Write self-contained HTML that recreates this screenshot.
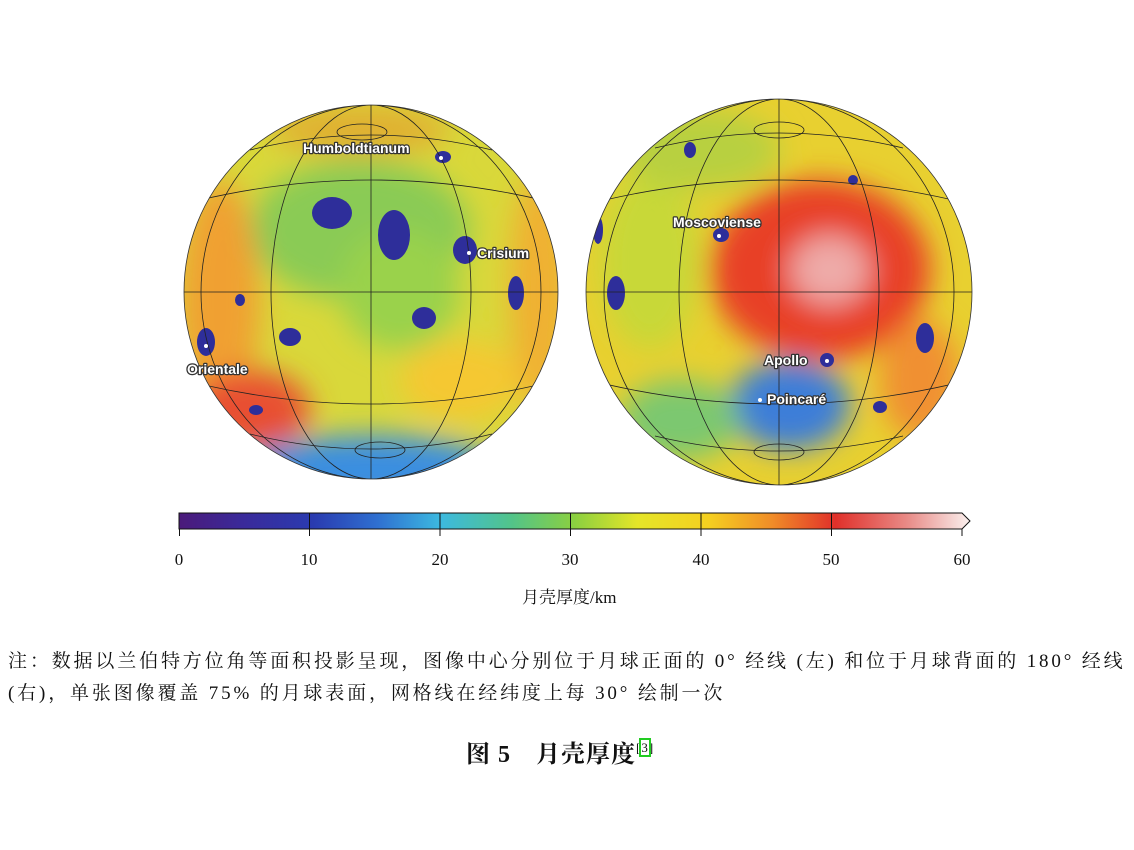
<!DOCTYPE html>
<html><head><meta charset="utf-8"><style>
body{margin:0;background:#fff;width:1134px;height:850px;overflow:hidden;font-family:"Liberation Serif","Noto Serif CJK SC",serif;}
.t{position:absolute;color:#111;white-space:nowrap}
</style></head><body>
<svg width="1134" height="850" style="position:absolute;left:0;top:0">
<defs>
<filter id="b" x="-50%" y="-50%" width="200%" height="200%"><feGaussianBlur stdDeviation="14"/></filter>
<clipPath id="cl"><circle cx="371" cy="292" r="187"/></clipPath>
<clipPath id="cr"><circle cx="779" cy="292" r="193"/></clipPath>
<linearGradient id="cb" x1="0" x2="1">
<stop offset="0" stop-color="#4b1a7a"/><stop offset="0.08" stop-color="#3a2a9a"/><stop offset="0.17" stop-color="#2a3bb0"/><stop offset="0.25" stop-color="#2f6fd0"/><stop offset="0.33" stop-color="#3cb9e0"/><stop offset="0.42" stop-color="#52c48a"/><stop offset="0.5" stop-color="#8bd040"/><stop offset="0.58" stop-color="#e5e528"/><stop offset="0.67" stop-color="#f5d020"/><stop offset="0.75" stop-color="#f08c28"/><stop offset="0.83" stop-color="#e0302a"/><stop offset="0.92" stop-color="#e88a86"/><stop offset="1" stop-color="#faf0ee"/></linearGradient>
</defs>
<g clip-path="url(#cl)">
<rect x="180" y="100" width="380" height="390" fill="#d9d83a"/>
<g filter="url(#b)">
<ellipse cx="360" cy="230" rx="110" ry="70" fill="#8acb55"/>
<ellipse cx="400" cy="290" rx="60" ry="60" fill="#9ad24c"/>
<ellipse cx="220" cy="300" rx="40" ry="120" fill="#f0a030"/>
<ellipse cx="540" cy="290" rx="30" ry="120" fill="#f0b030"/>
<ellipse cx="250" cy="410" rx="60" ry="40" fill="#e85030"/>
<ellipse cx="370" cy="470" rx="130" ry="35" fill="#3a8ee0"/>
<ellipse cx="360" cy="130" rx="90" ry="25" fill="#e0b030"/>
<ellipse cx="460" cy="380" rx="60" ry="40" fill="#f5c830"/>
</g>
<g fill="#2e2e9a">
<ellipse cx="332" cy="213" rx="20" ry="16"/><ellipse cx="394" cy="235" rx="16" ry="25"/>
<ellipse cx="465" cy="250" rx="12" ry="14"/><ellipse cx="516" cy="293" rx="8" ry="17"/>
<ellipse cx="424" cy="318" rx="12" ry="11"/><ellipse cx="290" cy="337" rx="11" ry="9"/>
<ellipse cx="206" cy="342" rx="9" ry="14"/><ellipse cx="443" cy="157" rx="8" ry="6"/>
<ellipse cx="240" cy="300" rx="5" ry="6"/><ellipse cx="256" cy="410" rx="7" ry="5"/>
</g>
<g fill="none" stroke="#222" stroke-width="0.8">
<line x1="184" y1="292" x2="558" y2="292"/>
<line x1="371" y1="100" x2="371" y2="485"/>
<ellipse cx="371" cy="292" rx="100" ry="187"/><ellipse cx="371" cy="292" rx="170" ry="187"/>
<path d="M200 200 Q371 160 542 200"/><path d="M200 384 Q371 424 542 384"/>
<path d="M250 150 Q371 120 492 150"/><path d="M250 434 Q371 464 492 434"/>
<ellipse cx="362" cy="132" rx="25" ry="8"/><ellipse cx="380" cy="450" rx="25" ry="8"/>
</g>
</g>
<circle cx="371" cy="292" r="187" fill="none" stroke="#333" stroke-width="0.8"/>
<g clip-path="url(#cr)">
<rect x="580" y="95" width="400" height="400" fill="#e8d030"/>
<g filter="url(#b)">
<ellipse cx="820" cy="270" rx="110" ry="90" fill="#e84028"/>
<ellipse cx="830" cy="270" rx="40" ry="35" fill="#eeaaa8"/>
<ellipse cx="650" cy="260" rx="50" ry="90" fill="#c8d838"/>
<ellipse cx="700" cy="150" rx="80" ry="40" fill="#b8d040"/>
<ellipse cx="790" cy="405" rx="60" ry="45" fill="#3d7ed8"/>
<ellipse cx="680" cy="420" rx="60" ry="40" fill="#7cc870"/>
<ellipse cx="920" cy="380" rx="40" ry="60" fill="#f09030"/>
</g>
<g fill="#2e2e9a">
<ellipse cx="616" cy="293" rx="9" ry="17"/><ellipse cx="925" cy="338" rx="9" ry="15"/>
<ellipse cx="721" cy="235" rx="8" ry="7"/><ellipse cx="827" cy="360" rx="7" ry="7"/>
<ellipse cx="690" cy="150" rx="6" ry="8"/><ellipse cx="880" cy="407" rx="7" ry="6"/>
<ellipse cx="598" cy="230" rx="5" ry="14"/><ellipse cx="853" cy="180" rx="5" ry="5"/>
</g>
<g fill="none" stroke="#222" stroke-width="0.8">
<line x1="586" y1="292" x2="972" y2="292"/>
<line x1="779" y1="95" x2="779" y2="490"/>
<ellipse cx="779" cy="292" rx="100" ry="193"/><ellipse cx="779" cy="292" rx="175" ry="193"/>
<path d="M605 200 Q779 160 953 200"/><path d="M605 384 Q779 424 953 384"/>
<path d="M655 148 Q779 118 903 148"/><path d="M655 436 Q779 466 903 436"/>
<ellipse cx="779" cy="130" rx="25" ry="8"/><ellipse cx="779" cy="452" rx="25" ry="8"/>
</g>
</g>
<circle cx="779" cy="292" r="193" fill="none" stroke="#333" stroke-width="0.8"/>
<g font-family="Liberation Sans,sans-serif" font-weight="bold" font-size="14" fill="#fff" stroke="#333" stroke-width="2.5" paint-order="stroke" stroke-linejoin="round">
<text x="303" y="153">Humboldtianum</text><text x="477" y="258">Crisium</text>
<text x="187" y="374">Orientale</text><text x="673" y="227">Moscoviense</text>
<text x="764" y="365">Apollo</text><text x="767" y="404">Poincaré</text>
</g>
<g fill="#fff"><circle cx="441" cy="158" r="2"/><circle cx="469" cy="253" r="2"/><circle cx="206" cy="346" r="2"/><circle cx="719" cy="236" r="2"/><circle cx="827" cy="361" r="2"/><circle cx="760" cy="400" r="2"/></g>
<path d="M179 513 H962 L970 521 L962 529 H179 Z" fill="url(#cb)" stroke="#111" stroke-width="1"/>
<g stroke="#111" stroke-width="1">
<line x1="309.5" y1="513" x2="309.5" y2="536"/><line x1="440" y1="513" x2="440" y2="536"/><line x1="570.5" y1="513" x2="570.5" y2="536"/><line x1="701" y1="513" x2="701" y2="536"/><line x1="831.5" y1="513" x2="831.5" y2="536"/>
<line x1="179.5" y1="529" x2="179.5" y2="536"/><line x1="962" y1="529" x2="962" y2="536"/>
</g>
<g font-family="Liberation Serif,serif" font-size="17" fill="#111" text-anchor="middle">
<text x="179" y="565">0</text><text x="309" y="565">10</text><text x="440" y="565">20</text><text x="570" y="565">30</text><text x="701" y="565">40</text><text x="831" y="565">50</text><text x="962" y="565">60</text>
</g>
</svg>
<div class="t" style="left:522px;top:583px;font-size:17px">月壳厚度/km</div>
<div class="t" style="left:8px;top:646px;font-size:19px;letter-spacing:2.85px">注：数据以兰伯特方位角等面积投影呈现，图像中心分别位于月球正面的 0° 经线 (左) 和位于月球背面的 180° 经线</div>
<div class="t" style="left:8px;top:678px;font-size:19px;letter-spacing:2.85px">(右)，单张图像覆盖 75% 的月球表面，网格线在经纬度上每 30° 绘制一次</div>
<div class="t" style="left:466px;top:734px;font-size:24px;font-weight:bold;letter-spacing:1px">图 5　月壳厚度<span style="font-size:13px;vertical-align:10px;font-weight:normal">[<span style="outline:2px solid #2c2">3</span>]</span></div>
</body></html>
